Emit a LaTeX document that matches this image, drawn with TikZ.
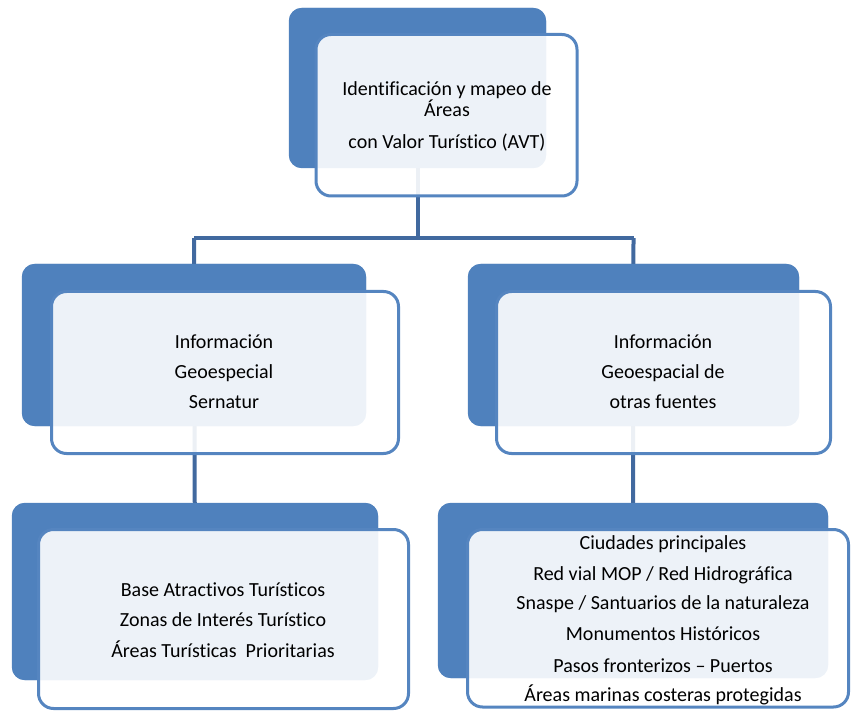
\documentclass[tikz,border=0pt]{standalone}
\usepackage{fontspec}
\setmainfont{Carlito}[Ligatures=NoCommon]
\definecolor{boxblue}{HTML}{4F81BD}
\definecolor{connblue}{HTML}{41699F}
\definecolor{edgeblue}{HTML}{5585C0}
\tikzset{
  darkbox/.style={rectangle, fill=boxblue, draw=none, rounded corners=13pt, inner sep=0pt},
  lightbox/.style={rectangle, fill=white, fill opacity=0.9, draw=edgeblue, draw opacity=1, line width=3pt, rounded corners=15pt, inner sep=0pt},
  conn/.style={draw=connblue, line width=4pt},
  lbl/.style={anchor=base, inner sep=0pt, font=\fontsize{20}{24}\selectfont, text=black}
}
\begin{document}
\begin{tikzpicture}[x=1pt,y=-1pt]
\useasboundingbox (0,0) rectangle (851,711);
% dark back boxes
\node[darkbox, minimum width=257pt, minimum height=160pt] (topD) at (417.5,88) {};
\node[darkbox, minimum width=344pt, minimum height=162pt] (midLD) at (194,345) {};
\node[darkbox, minimum width=331pt, minimum height=162pt] (midRD) at (633.5,345) {};
\node[darkbox, minimum width=366pt, minimum height=177pt] (botLD) at (195,591.5) {};
\node[darkbox, minimum width=390pt, minimum height=175pt] (botRD) at (633,590.5) {};
% connectors
\coordinate (bar) at (0,238);
\draw[conn] (topD.center) -- (topD.center |- bar);
\draw[conn] (midLD.center |- bar) -- (midRD.center |- bar);
\draw[conn] (midLD.center |- bar) -- (botLD.center);
\draw[conn] (midRD.center |- bar) -- (botRD.center);
% redraw dark boxes over connectors
\fill[boxblue, rounded corners=13pt] (topD.north west) rectangle (topD.south east);
\fill[boxblue, rounded corners=13pt] (midLD.north west) rectangle (midLD.south east);
\fill[boxblue, rounded corners=13pt] (midRD.north west) rectangle (midRD.south east);
\fill[boxblue, rounded corners=13pt] (botLD.north west) rectangle (botLD.south east);
\fill[boxblue, rounded corners=13pt] (botRD.north west) rectangle (botRD.south east);
% light front boxes
\node[lightbox, minimum width=261pt, minimum height=161.5pt] (topL) at (446.5,115.25) {};
\node[lightbox, minimum width=347pt, minimum height=162pt] (midLL) at (225,372.5) {};
\node[lightbox, minimum width=334pt, minimum height=162pt] (midRL) at (663.5,372.5) {};
\node[lightbox, minimum width=370pt, minimum height=179pt] (botLL) at (223.5,619) {};
\node[lightbox, minimum width=381pt, minimum height=177.5pt] (botRL) at (658,618.25) {};
% texts
\node[lbl] (t1a) at (447,96) {Identificación y mapeo de};
\node[lbl] (t1b) at (447,117) {Áreas};
\node[lbl] (t1c) at (447,149) {con Valor Turístico (AVT)};
\node[lbl] (t2a) at (224,348) {Información};
\node[lbl] (t2b) at (224,378) {Geoespecial};
\node[lbl] (t2c) at (224,408) {Sernatur};
\node[lbl] (t3a) at (663,348) {Información};
\node[lbl] (t3b) at (663,378) {Geoespacial de};
\node[lbl] (t3c) at (663,408) {otras fuentes};
\node[lbl] (t4a) at (223,596) {Base Atractivos Turísticos};
\node[lbl] (t4b) at (223,626) {Zonas de Interés Turístico};
\node[lbl] (t4c) at (223,657) {Áreas Turísticas~ Prioritarias};
\node[lbl] (t5a) at (663,549) {Ciudades principales};
\node[lbl] (t5b) at (663,580) {Red vial MOP / Red Hidrográfica};
\node[lbl] (t5c) at (663,609) {Snaspe / Santuarios de la naturaleza};
\node[lbl] (t5d) at (663,640) {Monumentos Históricos};
\node[lbl] (t5e) at (663,672) {Pasos fronterizos – Puertos};
\node[lbl] (t5f) at (663,701) {Áreas marinas costeras protegidas};
\end{tikzpicture}
\end{document}
